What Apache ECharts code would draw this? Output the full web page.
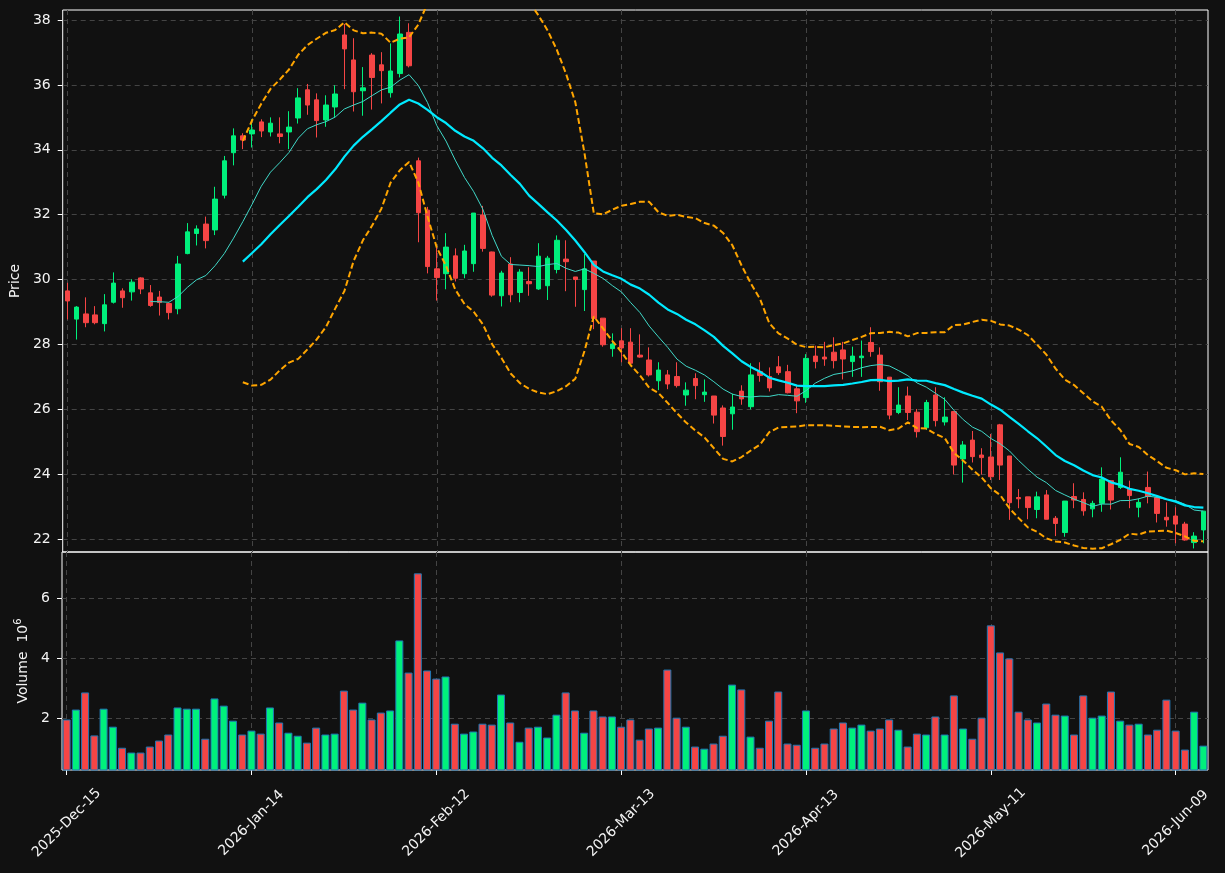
<!DOCTYPE html>
<html>
<head>
<meta charset="utf-8">
<script src="https://cdn.jsdelivr.net/npm/echarts@6/dist/echarts.min.js"></script>
<style>
  html, body { margin: 0; padding: 0; background: #111111; }
  #chart { width: 1225px; height: 873px; }
</style>
</head>
<body>
<div id="chart"></div>
<script>
// trading days (NYSE calendar)
const dates = [
  '2025-Dec-15','2025-Dec-16','2025-Dec-17','2025-Dec-18','2025-Dec-19','2025-Dec-22','2025-Dec-23','2025-Dec-24','2025-Dec-26','2025-Dec-29','2025-Dec-30','2025-Dec-31',
  '2026-Jan-02','2026-Jan-05','2026-Jan-06','2026-Jan-07','2026-Jan-08','2026-Jan-09','2026-Jan-12','2026-Jan-13','2026-Jan-14','2026-Jan-15','2026-Jan-16','2026-Jan-20','2026-Jan-21','2026-Jan-22','2026-Jan-23','2026-Jan-26','2026-Jan-27','2026-Jan-28','2026-Jan-29','2026-Jan-30',
  '2026-Feb-02','2026-Feb-03','2026-Feb-04','2026-Feb-05','2026-Feb-06','2026-Feb-09','2026-Feb-10','2026-Feb-11','2026-Feb-12','2026-Feb-13','2026-Feb-17','2026-Feb-18','2026-Feb-19','2026-Feb-20','2026-Feb-23','2026-Feb-24','2026-Feb-25','2026-Feb-26','2026-Feb-27',
  '2026-Mar-02','2026-Mar-03','2026-Mar-04','2026-Mar-05','2026-Mar-06','2026-Mar-09','2026-Mar-10','2026-Mar-11','2026-Mar-12','2026-Mar-13','2026-Mar-16','2026-Mar-17','2026-Mar-18','2026-Mar-19','2026-Mar-20','2026-Mar-23','2026-Mar-24','2026-Mar-25','2026-Mar-26','2026-Mar-27','2026-Mar-30','2026-Mar-31',
  '2026-Apr-01','2026-Apr-02','2026-Apr-06','2026-Apr-07','2026-Apr-08','2026-Apr-09','2026-Apr-10','2026-Apr-13','2026-Apr-14','2026-Apr-15','2026-Apr-16','2026-Apr-17','2026-Apr-20','2026-Apr-21','2026-Apr-22','2026-Apr-23','2026-Apr-24','2026-Apr-27','2026-Apr-28','2026-Apr-29','2026-Apr-30',
  '2026-May-01','2026-May-04','2026-May-05','2026-May-06','2026-May-07','2026-May-08','2026-May-11','2026-May-12','2026-May-13','2026-May-14','2026-May-15','2026-May-18','2026-May-19','2026-May-20','2026-May-21','2026-May-22','2026-May-26','2026-May-27','2026-May-28','2026-May-29',
  '2026-Jun-01','2026-Jun-02','2026-Jun-03','2026-Jun-04','2026-Jun-05','2026-Jun-08','2026-Jun-09','2026-Jun-10','2026-Jun-11','2026-Jun-12'
]

const opens = [
  29.65, 28.78, 28.94, 28.91, 28.64, 29.30, 29.65, 29.62, 30.05, 29.59,
  29.46, 29.26, 29.10, 30.80, 31.42, 31.71, 31.53, 32.60, 33.91, 34.43,
  34.49, 34.86, 34.55, 34.49, 34.55, 34.98, 35.85, 35.54, 34.92, 35.32,
  37.54, 36.77, 35.82, 36.92, 36.62, 35.76, 36.35, 37.62, 33.66, 32.14,
  30.33, 30.18, 30.73, 30.18, 30.49, 31.99, 30.85, 29.50, 30.48, 29.60,
  29.94, 29.71, 29.81, 30.31, 30.63, 30.08, 29.69, 30.57, 28.81, 27.87,
  28.11, 28.07, 27.67, 27.52, 26.88, 27.06, 27.01, 26.44, 26.95, 26.45,
  26.41, 26.04, 25.86, 26.56, 26.08, 27.16, 27.01, 27.31, 27.16, 26.63,
  26.36, 27.64, 27.61, 27.76, 27.83, 27.47, 27.59, 28.06, 27.67, 26.99,
  25.90, 26.41, 25.91, 25.43, 26.44, 25.61, 25.93, 24.47, 25.05, 24.59,
  24.53, 25.52, 24.56, 23.28, 23.30, 22.91, 23.36, 22.64, 22.20, 23.31,
  23.22, 22.93, 23.10, 23.80, 23.59, 23.54, 22.98, 23.59, 23.28, 22.67,
  22.71, 22.46, 21.89, 22.28
]
const highs = [
  29.90, 29.18, 29.45, 29.18, 29.55, 30.22, 29.73, 30.01, 30.07, 29.83,
  29.65, 29.29, 30.73, 31.74, 31.67, 31.94, 32.86, 33.81, 34.66, 34.51,
  34.94, 34.94, 35.00, 35.00, 35.19, 35.90, 36.03, 35.74, 35.68, 35.99,
  37.88, 37.44, 36.55, 36.98, 37.01, 37.28, 38.11, 37.90, 33.76, 32.24,
  31.07, 31.43, 30.96, 31.07, 32.05, 32.27, 30.86, 30.27, 30.69, 30.32,
  30.38, 31.12, 30.73, 31.36, 31.21, 30.08, 30.79, 30.57, 28.81, 28.34,
  28.50, 28.50, 28.31, 27.91, 27.45, 27.21, 27.45, 26.83, 27.11, 26.92,
  26.41, 26.12, 26.48, 26.74, 27.42, 27.45, 27.29, 27.64, 27.37, 26.75,
  27.70, 27.96, 28.08, 28.22, 28.08, 27.93, 28.12, 28.53, 27.91, 26.99,
  26.68, 26.70, 26.01, 26.29, 26.68, 26.37, 25.93, 25.02, 25.33, 24.80,
  25.24, 25.55, 24.56, 23.54, 23.30, 23.46, 23.51, 22.71, 23.17, 23.72,
  23.44, 23.18, 24.21, 23.82, 24.52, 23.80, 23.25, 24.08, 23.31, 23.13,
  22.98, 22.53, 22.21, 22.86
]
const lows = [
  28.77, 28.15, 28.53, 28.62, 28.40, 29.26, 29.13, 29.35, 29.55, 29.16,
  28.89, 28.77, 28.93, 30.78, 31.05, 30.96, 31.37, 32.50, 33.52, 34.02,
  34.07, 34.39, 34.41, 34.20, 34.02, 34.81, 35.08, 34.38, 34.71, 35.00,
  35.87, 35.18, 35.05, 35.24, 35.43, 35.61, 36.23, 36.54, 31.15, 30.19,
  29.35, 29.70, 29.94, 30.04, 30.24, 30.86, 29.47, 29.17, 29.30, 29.30,
  29.50, 29.68, 29.37, 30.19, 29.64, 29.16, 29.03, 28.47, 27.93, 27.62,
  27.45, 27.42, 27.59, 27.01, 26.59, 26.62, 26.67, 26.11, 26.31, 26.23,
  25.56, 24.88, 25.37, 26.14, 26.00, 26.85, 26.55, 27.06, 26.49, 25.88,
  26.20, 27.26, 27.34, 27.26, 26.92, 27.00, 27.00, 27.62, 26.57, 25.69,
  25.85, 25.67, 25.13, 25.36, 25.47, 25.50, 23.99, 23.74, 24.36, 23.99,
  23.82, 23.82, 22.59, 22.95, 22.61, 22.64, 22.61, 22.09, 22.07, 22.95,
  22.72, 22.67, 22.84, 22.91, 23.54, 22.95, 22.67, 23.10, 22.51, 22.38,
  21.87, 21.95, 21.71, 21.87
]
const closes = [
  29.34, 29.15, 28.67, 28.67, 29.22, 29.89, 29.44, 29.92, 29.71, 29.20,
  29.29, 28.98, 30.48, 31.47, 31.56, 31.20, 32.48, 33.66, 34.43, 34.30,
  34.61, 34.58, 34.82, 34.41, 34.70, 35.60, 35.38, 34.90, 35.38, 35.72,
  37.11, 35.79, 35.91, 36.23, 36.44, 36.43, 37.57, 36.59, 32.06, 30.40,
  30.06, 31.00, 30.04, 30.88, 32.05, 30.96, 29.52, 30.20, 29.53, 30.23,
  29.87, 30.72, 30.66, 31.21, 30.55, 30.00, 30.33, 28.80, 27.99, 28.01,
  27.89, 27.42, 27.61, 27.06, 27.21, 26.78, 26.73, 26.59, 26.73, 26.53,
  25.82, 25.16, 26.07, 26.32, 27.06, 27.04, 26.66, 27.13, 26.51, 26.26,
  27.57, 27.47, 27.55, 27.50, 27.55, 27.64, 27.64, 27.78, 26.85, 25.82,
  26.13, 25.90, 25.31, 26.21, 25.65, 25.76, 24.28, 24.90, 24.54, 24.51,
  23.92, 24.28, 23.12, 23.24, 22.97, 23.30, 22.61, 22.48, 23.17, 23.20,
  22.87, 23.10, 23.85, 23.20, 24.06, 23.34, 23.13, 23.31, 22.79, 22.59,
  22.46, 21.97, 22.09, 22.86
]
// volume in millions
const volumes = [
  1.96, 2.29, 2.86, 1.43, 2.32, 1.72, 1.02, 0.86, 0.86, 1.06,
  1.26, 1.46, 2.36, 2.32, 2.32, 1.32, 2.66, 2.42, 1.92, 1.46,
  1.59, 1.49, 2.36, 1.86, 1.52, 1.42, 1.19, 1.69, 1.46, 1.49,
  2.92, 2.29, 2.52, 1.96, 2.19, 2.26, 4.59, 3.52, 6.82, 3.59,
  3.32, 3.39, 1.82, 1.49, 1.56, 1.82, 1.79, 2.79, 1.86, 1.22,
  1.69, 1.72, 1.36, 2.12, 2.86, 2.26, 1.52, 2.26, 2.06, 2.06,
  1.72, 1.96, 1.29, 1.66, 1.69, 3.62, 2.02, 1.72, 1.06, 0.99,
  1.16, 1.42, 3.12, 2.96, 1.39, 1.02, 1.92, 2.89, 1.16, 1.12,
  2.26, 1.02, 1.16, 1.66, 1.86, 1.69, 1.79, 1.59, 1.66, 1.96,
  1.62, 1.06, 1.49, 1.46, 2.06, 1.46, 2.76, 1.66, 1.32, 2.02,
  5.09, 4.19, 3.99, 2.22, 1.96, 1.86, 2.49, 2.12, 2.09, 1.46,
  2.76, 2.02, 2.09, 2.89, 1.92, 1.79, 1.82, 1.46, 1.62, 2.62,
  1.59, 0.96, 2.22, 1.09
]

const UP = '#00f07c'
const DOWN = '#f54545'
const TXT = '#f4f4f4'
const GRIDLINE = { color: '#444444', type: [5, 4], width: 1 }
const FONT = 'DejaVu Sans'

// rolling mean / std of the closes (indicator lines)
function rolling(arr, n, fn) {
  return arr.map((_, i) => (i < n - 1 ? '-' : fn(arr.slice(i - n + 1, i + 1))))
}
const mean = a => a.reduce((s, v) => s + v, 0) / a.length
const std = a => {
  const m = mean(a)
  return Math.sqrt(a.reduce((s, v) => s + (v - m) * (v - m), 0) / (a.length - 1))
}
const ma10 = rolling(closes, 10, mean)
const ma20 = rolling(closes, 20, mean)
const sd20 = rolling(closes, 20, std)
const bbUpper = ma20.map((m, i) => (m === '-' ? '-' : m + 2 * sd20[i]))
const bbLower = ma20.map((m, i) => (m === '-' ? '-' : m - 2 * sd20[i]))

const candles = dates.map((d, i) => [opens[i], closes[i], lows[i], highs[i]])
const volBars = volumes.map((v, i) => ({
  value: v,
  itemStyle: { color: closes[i] >= opens[i] ? UP : DOWN }
}))

const everyTwenty = idx => idx % 20 === 0

const chart = echarts.init(document.getElementById('chart'), null, { renderer: 'canvas' })
chart.setOption({
  backgroundColor: '#111111',
  animation: false,
  textStyle: { fontFamily: FONT },
  grid: [
    { left: 62, right: 17, top: 10, height: 542, show: true, borderColor: '#ffffff', borderWidth: 1 },
    { left: 62, right: 17, top: 552, height: 218, show: true, borderColor: '#ffffff', borderWidth: 1 }
  ],
  xAxis: [
    {
      type: 'category', gridIndex: 0, data: dates, boundaryGap: true,
      axisLine: { show: false }, axisTick: { show: false }, axisLabel: { show: false },
      splitLine: { show: true, interval: everyTwenty, alignWithLabel: true, lineStyle: GRIDLINE }
    },
    {
      type: 'category', gridIndex: 1, data: dates, boundaryGap: true,
      axisLine: { show: false },
      axisTick: { show: true, interval: everyTwenty, alignWithLabel: true, length: 5, lineStyle: { color: '#ffffff' } },
      axisLabel: {
        interval: everyTwenty, rotate: 45, align: 'center', verticalAlign: 'middle',
        margin: 53, color: TXT, fontSize: 14, fontFamily: FONT
      },
      splitLine: { show: true, interval: everyTwenty, alignWithLabel: true, lineStyle: GRIDLINE }
    }
  ],
  yAxis: [
    {
      type: 'value', gridIndex: 0, min: 21.6, max: 38.31, splitNumber: 8, scale: true,
      axisLine: { show: false },
      axisTick: { show: true, length: 5, lineStyle: { color: '#ffffff' } },
      axisLabel: { showMinLabel: false, showMaxLabel: false, color: TXT, fontSize: 14, margin: 12, fontFamily: FONT },
      splitLine: { show: true, showMinLine: false, showMaxLine: false, lineStyle: GRIDLINE },
      name: 'Price', nameLocation: 'middle', nameGap: 36,
      nameTextStyle: { color: TXT, fontSize: 14, fontFamily: FONT }
    },
    {
      type: 'value', gridIndex: 1, min: 0.28, max: 7.53, splitNumber: 4, scale: true,
      axisLine: { show: false },
      axisTick: { show: true, length: 5, lineStyle: { color: '#ffffff' } },
      axisLabel: { showMinLabel: false, showMaxLabel: false, color: TXT, fontSize: 14, margin: 12, fontFamily: FONT },
      splitLine: { show: true, showMinLine: false, showMaxLine: false, lineStyle: GRIDLINE },
      name: '{a|Volume  10}{b|6}', nameLocation: 'middle', nameGap: 26,
      nameTextStyle: {
        color: TXT,
        rich: {
          a: { fontSize: 14, lineHeight: 20, color: TXT, fontFamily: FONT },
          b: { fontSize: 10, lineHeight: 10, verticalAlign: 'top', color: TXT, fontFamily: FONT }
        }
      }
    }
  ],
  series: [
    {
      type: 'candlestick', name: 'OHLC', xAxisIndex: 0, yAxisIndex: 0,
      data: candles, barWidth: 5,
      itemStyle: { color: UP, color0: DOWN, borderColor: UP, borderColor0: DOWN, borderWidth: 1 }
    },
    {
      type: 'line', name: 'MA10', xAxisIndex: 0, yAxisIndex: 0, data: ma10,
      symbol: 'none', lineStyle: { color: '#40d8c8', width: 1 }, z: 3
    },
    {
      type: 'line', name: 'MA20', xAxisIndex: 0, yAxisIndex: 0, data: ma20,
      symbol: 'none', lineStyle: { color: '#00eaff', width: 2.2 }, z: 3
    },
    {
      type: 'line', name: 'BB upper', xAxisIndex: 0, yAxisIndex: 0, data: bbUpper,
      symbol: 'none', lineStyle: { color: '#ffa500', width: 2, type: [6, 3] }, z: 3
    },
    {
      type: 'line', name: 'BB lower', xAxisIndex: 0, yAxisIndex: 0, data: bbLower,
      symbol: 'none', lineStyle: { color: '#ffa500', width: 2, type: [6, 3] }, z: 3
    },
    {
      type: 'bar', name: 'Volume', xAxisIndex: 1, yAxisIndex: 1, data: volBars,
      barWidth: 8, clip: true,
      itemStyle: { borderColor: '#1f77b4', borderWidth: 1 }
    }
  ]
})
</script>
</body>
</html>
